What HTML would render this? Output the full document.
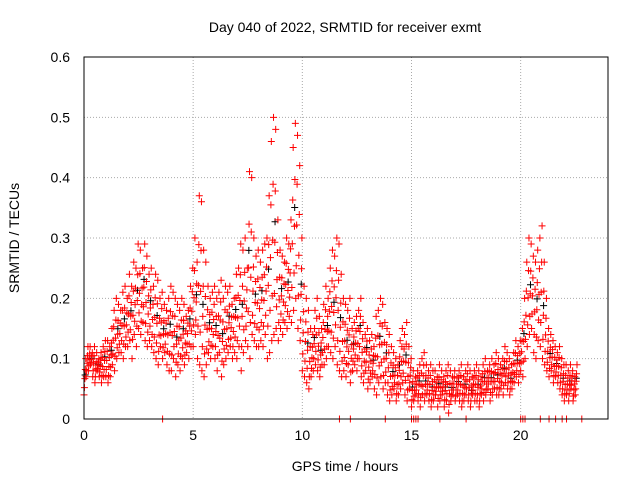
<!DOCTYPE html>
<html><head><meta charset="utf-8"><style>
body{margin:0;background:#fff;}
svg{display:block;font-family:"Liberation Sans",sans-serif;}
</style></head><body>
<svg id="c" width="640" height="480">
<text x="345" y="32" text-anchor="middle" font-size="14">Day 040 of 2022, SRMTID for receiver exmt</text>
<text x="345" y="471" text-anchor="middle" font-size="14">GPS time / hours</text>
<text transform="translate(19,238) rotate(-90)" text-anchor="middle" font-size="14">SRMTID / TECUs</text>
<g id="grid"></g><g id="ticks"></g><g id="marks"></g>
<rect x="84" y="57" width="524" height="362" fill="none" stroke="#000"/>
</svg>
<script>
const xTicks=[0,5,10,15,20];
const yTicks=[0,0.1,0.2,0.3,0.4,0.5,0.6];
const yTickLabels=["0","0.1","0.2","0.3","0.4","0.5","0.6"];
const times=[];for(let i=0;i<226;i++)times.push(+(i*0.1).toFixed(1));
const hiVals=[.10,.12,.12,.11,.12,.11,.10,.11,.12,.13,
.13,.12,.15,.18,.20,.19,.18,.21,.22,.20,
.24,.22,.26,.25,.29,.28,.25,.29,.27,.24,
.25,.22,.24,.23,.20,.21,.19,.18,.20,.22,
.21,.20,.19,.18,.20,.19,.17,.18,.22,.25,
.30,.26,.37,.36,.28,.26,.22,.20,.21,.22,
.20,.21,.23,.20,.22,.21,.22,.19,.20,.24,
.25,.29,.28,.30,.25,.41,.40,.30,.27,.28,
.26,.28,.29,.30,.37,.46,.50,.48,.33,.28,
.27,.26,.30,.29,.33,.45,.49,.47,.42,.30,
.22,.20,.18,.15,.14,.18,.20,.17,.15,.19,
.22,.20,.25,.28,.27,.30,.29,.24,.20,.19,
.18,.20,.15,.16,.17,.18,.20,.16,.14,.15,
.13,.14,.12,.17,.18,.20,.19,.16,.15,.14,
.12,.11,.10,.09,.13,.15,.14,.16,.12,.10,
.08,.07,.08,.09,.10,.11,.09,.08,.09,.08,
.08,.07,.09,.08,.07,.08,.09,.08,.07,.08,
.07,.08,.09,.07,.08,.09,.08,.07,.08,.09,
.08,.07,.09,.10,.08,.09,.10,.09,.11,.10,
.09,.10,.12,.11,.10,.09,.11,.13,.12,.13,
.15,.20,.26,.30,.29,.27,.26,.28,.30,.32,
.26,.20,.15,.14,.13,.12,.11,.12,.10,.09,
.09,.08,.09,.08,.07,.09];
const loVals=[.04,.07,.08,.09,.07,.06,.08,.07,.06,.07,
.07,.06,.07,.09,.08,.10,.11,.11,.10,.12,
.12,.13,.10,.14,.12,.15,.14,.16,.13,.12,
.13,.12,.11,.10,.09,.12,.10,.11,.09,.08,
.08,.10,.07,.09,.08,.10,.09,.11,.10,.12,
.12,.14,.10,.09,.08,.07,.09,.11,.10,.12,
.10,.08,.11,.07,.09,.10,.11,.12,.10,.11,
.10,.12,.08,.11,.13,.12,.10,.14,.13,.12,
.12,.13,.12,.14,.10,.11,.13,.14,.15,.13,
.15,.14,.16,.15,.17,.16,.18,.20,.15,.13,
.08,.07,.06,.05,.07,.08,.09,.08,.07,.09,
.09,.10,.12,.11,.10,.12,.09,.08,.07,.08,
.07,.09,.06,.08,.09,.08,.10,.07,.06,.08,
.05,.06,.07,.05,.04,.06,.07,.05,.06,.04,
.03,.04,.05,.03,.04,.05,.06,.04,.03,.05,
.02,.03,.04,.03,.02,.04,.03,.04,.03,.02,
.03,.04,.02,.03,.04,.02,.03,.01,.03,.04,
.03,.04,.03,.02,.03,.04,.03,.02,.04,.03,
.03,.02,.04,.03,.04,.05,.03,.04,.05,.04,
.04,.05,.04,.06,.05,.04,.05,.06,.07,.06,
.08,.07,.10,.12,.14,.15,.11,.10,.13,.12,
.10,.09,.08,.07,.08,.06,.07,.06,.05,.04,
.03,.04,.03,.05,.03,.04];
const zeroTimes=[3.6,11.7,12.2,13.8,15.0,15.1,15.2,15.3,16.3,17.5,20.0,20.1,20.2,20.9,21.3,21.6,21.9,22.1,22.8];
const fracs=[0,0.2,0.45,0.7,1];
const X=t=>84+t/24*524, Y=v=>419-v/0.6*362;
const NS="http://www.w3.org/2000/svg";
function mk(tag,attrs,parent){const e=document.createElementNS(NS,tag);for(const k in attrs)e.setAttribute(k,attrs[k]);document.getElementById(parent).appendChild(e);return e;}
xTicks.forEach(t=>{
 const g=mk('line',{x1:X(t),x2:X(t),y1:57,y2:419,stroke:'#aaa','stroke-dasharray':'1,2'},'grid');
 
 
 const l=mk('text',{x:X(t),y:440,'text-anchor':'middle','font-size':14},'ticks');l.textContent=t;
 
 
});
yTicks.forEach((v,i)=>{
 const g=mk('line',{x1:84,x2:608,y1:Y(v),y2:Y(v),stroke:'#aaa','stroke-dasharray':'1,2'},'grid');
 
 
 const l=mk('text',{x:70,y:Y(v)+5,'text-anchor':'end','font-size':14},'ticks');l.textContent=yTickLabels[i];
 
 
});
function plus(t,v,col){const x=X(t),y=Y(v);
 const p=mk('path',{d:`M${x-3.5},${y}h7M${x},${y-3.5}v7`,stroke:col,'stroke-width':1,fill:'none'},'marks');
 
 }
times.forEach((t,i)=>{if(i%3===0)plus(t+0.05,loVals[i]+(hiVals[i]-loVals[i])*0.55,'#000');});
times.forEach((t,i)=>{fracs.forEach((f,j)=>plus(t+j*0.02,loVals[i]+(hiVals[i]-loVals[i])*f,'#f00'));});
zeroTimes.forEach(t=>plus(t,0,'#f00'));
</script>
</body></html>
